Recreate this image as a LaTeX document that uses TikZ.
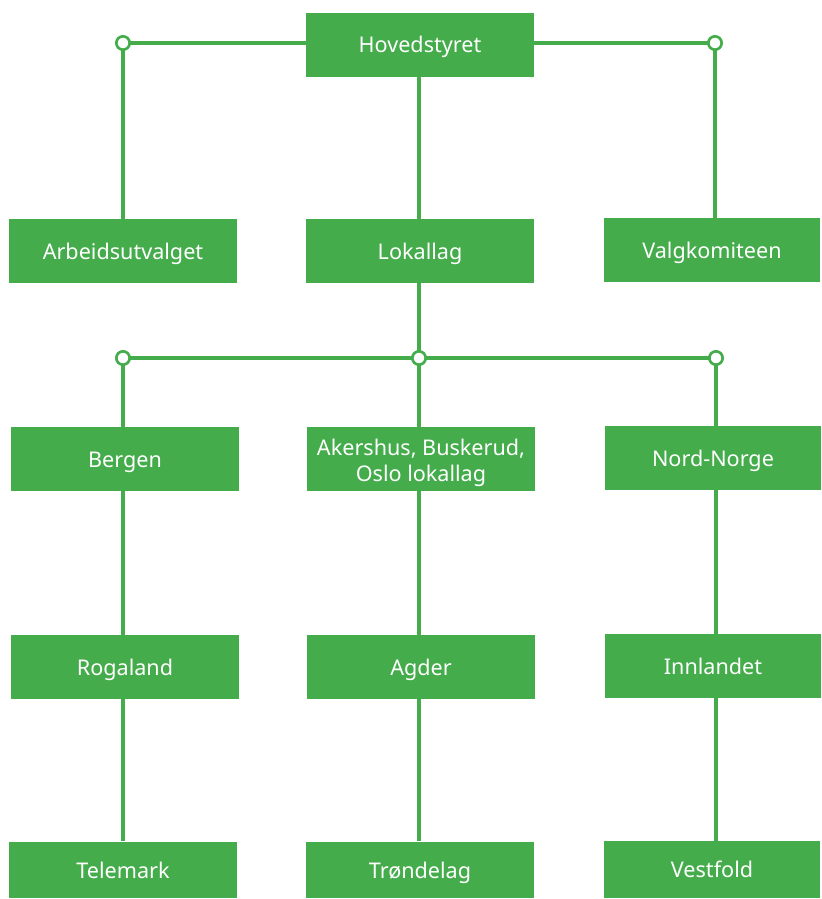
\documentclass[tikz,border=0pt]{standalone}
\usepackage{fontspec}
\setmainfont{Noto Sans}
\usetikzlibrary{backgrounds}
\definecolor{grn}{HTML}{44AC4B}
\begin{document}
\begin{tikzpicture}[x=0.75pt,y=-0.75pt,
  basebox/.style={fill=grn,text=white,font=\fontsize{16.2}{19.5}\selectfont,inner sep=0pt,align=center,minimum width=171pt,minimum height=48pt},
  box/.style={basebox,text height=13pt,text depth=1pt},
  narrow/.style={minimum width=162.5pt},
  low/.style={minimum height=42.5pt},
  conn/.style={draw=grn,line width=2.5pt},
  dot/.style={circle,draw=grn,fill=white,line width=2pt,minimum size=10pt,inner sep=0pt}]
\useasboundingbox (0,0) rectangle (821,899);
% boxes
\node[box] (hs) at (420,45) {Hovedstyret};
\node[box] (arb) at (123,251) {Arbeidsutvalget};
\node[box] (lok) at (420,251) {Lokallag};
\node[box,narrow] (valg) at (712,250) {Valgkomiteen};
\node[box] (berg) at (125,459) {Bergen};
\node[basebox] (ake) at (421,459) {\rule{0pt}{18pt}Akershus, Buskerud,\\Oslo lokallag};
\node[box,narrow] (nord) at (713,458) {Nord-Norge};
\node[box] (rog) at (125,667) {Rogaland};
\node[box] (agd) at (421,667) {Agder};
\node[box,narrow] (inn) at (713,666) {Innlandet};
\node[box,low] (tel) at (123,870) {Telemark};
\node[box,low] (tro) at (420,870) {Trøndelag};
\node[box,narrow,low] (vest) at (712,869.5) {Vestfold};
% junctions
\coordinate (jTL) at (123,43);
\coordinate (jTR) at (715,43);
\coordinate (jL) at (123,358);
\coordinate (jM) at (419,358);
\coordinate (jR) at (716,358);
\begin{pgfonlayer}{background}
\draw[conn] (jTL) -- (hs.west |- jTL);
\draw[conn] (hs.east |- jTR) -- (jTR);
\draw[conn] (jTL) -- (jTL |- arb.north);
\draw[conn] (jTR) -- (jTR |- valg.north);
\draw[conn] (hs.south -| jM) -- (lok.north -| jM);
\draw[conn] (lok.south -| jM) -- (jM);
\draw[conn] (jL) -- (jR);
\draw[conn] (jL) -- (jL |- berg.north);
\draw[conn] (jM) -- (jM |- ake.north);
\draw[conn] (jR) -- (jR |- nord.north);
\draw[conn] (berg.south -| jL) -- (rog.north -| jL);
\draw[conn] (rog.south -| jL) -- (tel.north -| jL);
\draw[conn] (ake.south -| jM) -- (agd.north -| jM);
\draw[conn] (agd.south -| jM) -- (tro.north -| jM);
\draw[conn] (nord.south -| jR) -- (inn.north -| jR);
\draw[conn] (inn.south -| jR) -- (vest.north -| jR);
\end{pgfonlayer}
\node[dot] (dTL) at (jTL) {};
\node[dot] (dTR) at (jTR) {};
\node[dot] (dL) at (jL) {};
\node[dot] (dM) at (jM) {};
\node[dot] (dR) at (jR) {};
\end{tikzpicture}
\end{document}
